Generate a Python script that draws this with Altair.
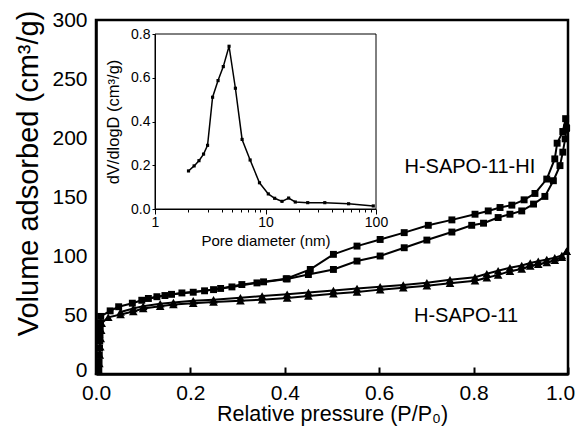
import altair as alt
import pandas as pd

# ---------------- main isotherms (N2 adsorption/desorption) ----------------
hi_ads_p = [0.006, 0.0065, 0.007, 0.0075, 0.008, 0.0085, 0.009, 0.0095, 0.010, 0.030, 0.048, 0.077,
            0.097, 0.129, 0.160, 0.206, 0.249, 0.288, 0.341, 0.405, 0.450, 0.503, 0.553, 0.602,
            0.653, 0.701, 0.754, 0.796, 0.821, 0.852, 0.877, 0.902, 0.927, 0.951, 0.969, 0.983,
            0.989, 0.994, 0.997]
hi_ads_v = [4, 10, 16, 22, 28, 33, 38, 43, 48.8, 53.5, 57, 60,
            62.5, 65.5, 67.5, 69.3, 71.5, 73.8, 77.2, 80.6, 84.3, 88.6, 95.7, 100,
            107, 113.5, 120.3, 126, 127.8, 132.6, 135.4, 138.2, 144, 150.5, 163.8, 176.6,
            188, 199.3, 208.4]
hi_des_p = [0.997, 0.995, 0.989, 0.977, 0.972, 0.955, 0.930, 0.907, 0.881, 0.856, 0.831, 0.803,
            0.754, 0.704, 0.653, 0.602, 0.553, 0.503, 0.454, 0.403, 0.355, 0.309, 0.264, 0.230,
            0.182, 0.146, 0.111]
hi_des_v = [208.4, 216.4, 205.5, 195.6, 182.3, 165.2, 153, 147.6, 143.1, 141.1, 138.2, 135.4,
            130.6, 126, 119.8, 114, 108.4, 101.4, 88.6, 80.7, 78.1, 75.8, 72.5, 70.5,
            68.7, 66.5, 64]

h_ads_p = [0.006, 0.007, 0.008, 0.009, 0.010, 0.011, 0.012, 0.026, 0.052, 0.079, 0.100, 0.136,
           0.164, 0.206, 0.249, 0.306, 0.352, 0.405, 0.450, 0.503, 0.553, 0.602, 0.651, 0.701,
           0.750, 0.803, 0.828, 0.852, 0.877, 0.902, 0.920, 0.937, 0.955, 0.972, 0.987, 0.997]
h_ads_v = [3, 9, 16, 23, 30, 37, 43, 48, 50.5, 53, 55.5, 57.5,
           58.8, 60, 61, 62, 63, 64.5, 66, 68, 69.5, 71.5, 73, 74.8,
           77, 79, 81.5, 84, 87, 89, 91.5, 93, 94.5, 96.5, 99, 104]
h_des_p = [0.997, 0.987, 0.972, 0.955, 0.937, 0.920, 0.902, 0.877, 0.852, 0.828, 0.803, 0.750,
           0.701, 0.651, 0.602, 0.553, 0.503, 0.450, 0.405, 0.352, 0.306, 0.249, 0.206, 0.164,
           0.136, 0.100, 0.079, 0.052]
h_des_v = [104, 100.5, 98.5, 97, 95.5, 94, 92, 90, 87.5, 85, 82, 79.8,
           77.3, 75.5, 74, 72.5, 70.8, 69, 67.5, 66, 64.7, 63, 62, 60.5,
           59.5, 57.5, 55.5, 52.5]

series_names = ["H-SAPO-11-HI", "H-SAPO-11"]
label_p = [0.792, 0.784]
label_v = [175.5, 49.4]

x_ticks = [0.0, 0.2, 0.4, 0.6, 0.8, 1.0]
y_ticks = [0, 50, 100, 150, 200, 250, 300]
x_domain = [0, 1]
y_domain = [0, 300]

# ---------------- inset: pore size distribution ----------------
pore_d = [2.01, 2.26, 2.50, 2.75, 2.99, 3.32, 3.72, 4.15, 4.68, 5.34, 6.14, 7.26,
          8.82, 10.6, 12.1, 14.1, 16.2, 18.6, 24.1, 34.4, 56.5, 94.5]
pore_v = [0.174, 0.197, 0.221, 0.251, 0.291, 0.511, 0.587, 0.651, 0.744, 0.552, 0.318, 0.224,
          0.120, 0.069, 0.049, 0.035, 0.050, 0.032, 0.029, 0.029, 0.024, 0.014]
inset_x_domain = [1, 100]
inset_y_domain = [0, 0.8]
inset_x_ticks = [1, 2, 3, 4, 5, 6, 7, 8, 9, 10, 20, 30, 40, 50, 60, 70, 80, 90, 100]
inset_y_ticks = [0.0, 0.2, 0.4, 0.6, 0.8]

FONT = "Liberation Sans"
W, H = 472, 354

# ---------------- tables ----------------
rows = []
for s, b, ps, vs in [("HI", "ads", hi_ads_p, hi_ads_v), ("HI", "des", hi_des_p, hi_des_v),
                     ("H", "ads", h_ads_p, h_ads_v), ("H", "des", h_des_p, h_des_v)]:
    for i, (p, v) in enumerate(zip(ps, vs)):
        rows.append({"P": p, "V": v, "series": s, "key": s + b, "idx": i})
main_df = pd.DataFrame(rows)
lab_df = pd.DataFrame({"P": label_p, "V": label_v, "label": series_names})
inset_df = pd.DataFrame({"D": pore_d, "v": pore_v, "idx": list(range(len(pore_d)))})
box_df = pd.DataFrame({"D": [inset_x_domain[0]], "D2": [inset_x_domain[1]],
                       "v": [inset_y_domain[0]], "v2": [inset_y_domain[1]]})

# ---------------- main axes ----------------
ax_x = alt.Axis(orient="bottom", values=x_ticks, format=".1f", ticks=False,
                labelFontSize=21, labelPadding=8, domainWidth=2.5,
                labelOffset={"condition": {"test": "datum.value == 1", "value": -8}, "value": 0},
                grid=True, gridColor="black", gridWidth=2, gridOpacity=1,
                gridDash=[0, H - 7, 7, 1000],
                title="Relative pressure (P/P₀)", titleFontSize=21.5, titlePadding=0)
ax_y = alt.Axis(orient="left", values=y_ticks, ticks=False, grid=False,
                labelFontSize=21, labelPadding=9, domainWidth=2.5,
                labelOffset={"condition": {"test": "datum.value == 0", "value": -4}, "value": 0},
                title="Volume adsorbed (cm³/g)", titleFontSize=29, titlePadding=8,
                titleY=153)
X = alt.X("P:Q", scale=alt.Scale(domain=x_domain, nice=False, zero=False), axis=ax_x)
Y = alt.Y("V:Q", scale=alt.Scale(domain=y_domain, nice=False), axis=ax_y)

lines = alt.Chart(main_df).mark_line(color="black", strokeWidth=2).encode(
    x=X, y=Y, detail="key:N", order="idx:Q")
points = alt.Chart(main_df).mark_point(filled=True, color="black", opacity=1).encode(
    x=X, y=Y,
    shape=alt.Shape("series:N", scale=alt.Scale(domain=["HI", "H"], range=["square", "triangle-up"]), legend=None),
    size=alt.Size("series:N", scale=alt.Scale(domain=["HI", "H"], range=[48, 75]), legend=None))
labels = alt.Chart(lab_df).mark_text(font=FONT, fontSize=20, color="black").encode(
    x=X, y=Y, text="label:N")
main_layer = alt.layer(lines, points, labels)

# ---------------- inset axes ----------------
major = "datum.value == 1 || datum.value == 10 || datum.value == 100"
ix_axis = alt.Axis(orient="bottom", offset=-(H - 189), values=inset_x_ticks,
                   labelExpr="(" + major + ") ? format(datum.value, 'd') : ''",
                   tickSize={"condition": {"test": major, "value": 5}, "value": 3},
                   labelFontSize=14, labelPadding=1, grid=False, domainWidth=1,
                   title="Pore diameter (nm)", titleFontSize=15, titlePadding=4)
iy_axis = alt.Axis(orient="left", offset=-59, values=inset_y_ticks, format=".1f",
                   tickSize=3, labelFontSize=14, labelPadding=2, grid=False, domainWidth=1,
                   title="dV/dlogD (cm³/g)", titleFontSize=16.5, titlePadding=9)
IX = alt.X("D:Q", scale=alt.Scale(type="log", domain=inset_x_domain, range=[59, 280], nice=False),
           axis=ix_axis)
IY = alt.Y("v:Q", scale=alt.Scale(domain=inset_y_domain, range=[189, 14], nice=False, zero=False),
           axis=iy_axis)

box = alt.Chart(box_df).mark_rect(fill=None, stroke="black", strokeWidth=1).encode(
    x=IX, x2="D2:Q", y=IY, y2="v2:Q")
iline = alt.Chart(inset_df).mark_line(color="black", strokeWidth=1.5).encode(
    x=IX, y=IY, order="idx:Q")
ipts = alt.Chart(inset_df).mark_point(shape="square", filled=True, color="black",
                                      opacity=1, size=10).encode(x=IX, y=IY)
inset_layer = alt.layer(box, iline, ipts)

chart = alt.layer(main_layer, inset_layer).resolve_scale(
    x="independent", y="independent"
).properties(
    width=W, height=H,
    background="white",
    autosize=alt.AutoSizeParams(type="none"),
    padding={"left": 88, "top": 12, "right": 8, "bottom": 54},
).configure_view(
    stroke="black", strokeWidth=2.5
).configure_axis(
    labelFont=FONT, titleFont=FONT, titleFontWeight="normal", labelFlush=False,
    labelColor="black", titleColor="black", domainColor="black", tickColor="black"
)

chart.save("out.html", embed_options={"renderer": "svg", "actions": False})
